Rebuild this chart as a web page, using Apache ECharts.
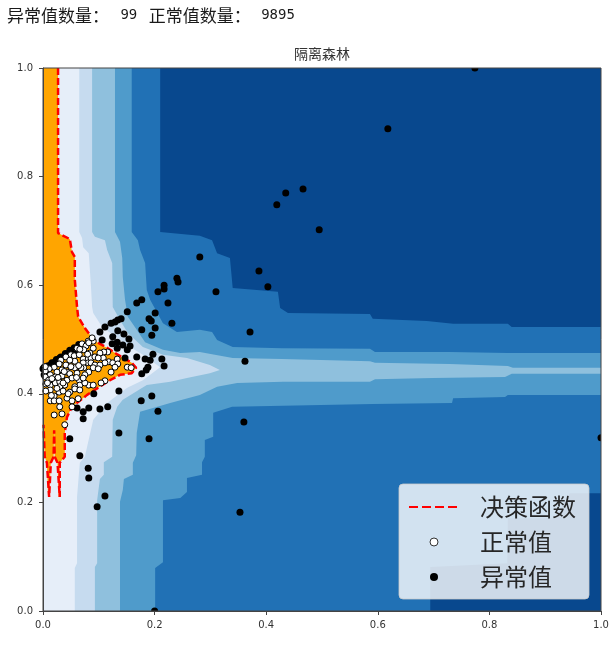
<!DOCTYPE html>
<html>
<head>
<meta charset="utf-8">
<style>html,body{margin:0;padding:0;background:#fff}#c{width:613px;height:650px}</style>
<script src="https://cdn.jsdelivr.net/npm/echarts@6/dist/echarts.min.js"></script>
</head>
<body>
<div id="c"></div>
<script>
var chartTitle = '隔离森林';
var anomalyCount = 99;
var normalCount = 9895;
var xTicks = [0, 0.2, 0.4, 0.6, 0.8, 1.0];

var levelColors = ['#08488e', '#2171b5', '#4f9bcb', '#8fc0dd', '#c6dbef', '#e6eef9', '#ffa500'];

var level1 = [[0,1],[.210,1],[.210,.698],[.281,.691],[.303,.683],[.312,.659],[.335,.650],[.340,.595],[.421,.588],[.425,.558],[.439,.549],[.586,.547],[.591,.538],[.688,.534],[.735,.529],[.833,.529],[.840,.523],[1,.523],[1,.217],[.944,.217],[.917,.171],[.833,.171],[.832,.088],[.694,.081],[.694,0],[0,0]];

var level2 = [[0,1],[.159,1],[.159,.698],[.170,.683],[.174,.665],[.183,.641],[.186,.591],[.192,.573],[.215,.530],[.240,.514],[.281,.518],[.303,.514],[.312,.499],[.340,.486],[.428,.484],[.586,.483],[.595,.477],[.729,.477],[.833,.475],[1,.475],[1,.398],[.833,.398],[.828,.394],[.735,.392],[.733,.383],[.591,.381],[.430,.378],[.339,.376],[.305,.365],[.305,.321],[.290,.315],[.290,.284],[.285,.274],[.285,.251],[.258,.245],[.258,.219],[.246,.208],[.215,.204],[.215,.090],[.201,.079],[.201,0],[0,0]];

var level3 = [[0,1],[.129,1],[.129,.698],[.138,.680],[.142,.650],[.143,.615],[.147,.573],[.152,.542],[.168,.518],[.183,.495],[.215,.481],[.246,.475],[.281,.477],[.303,.473],[.340,.466],[.428,.464],[.586,.460],[.595,.457],[.729,.455],[.833,.451],[.842,.448],[1,.448],[1,.437],[.840,.437],[.828,.431],[.699,.429],[.595,.427],[.586,.422],[.430,.422],[.348,.420],[.312,.413],[.281,.398],[.228,.383],[.174,.367],[.168,.328],[.167,.287],[.161,.273],[.161,.251],[.145,.243],[.143,.223],[.138,.201],[.138,0],[0,0]];

var level4 = [[0,1],[.088,1],[.088,.698],[.093,.689],[.111,.683],[.115,.665],[.124,.641],[.125,.560],[.138,.536],[.152,.512],[.179,.486],[.215,.472],[.258,.466],[.299,.453],[.317,.444],[.299,.438],[.258,.429],[.228,.422],[.186,.416],[.143,.389],[.133,.376],[.125,.352],[.124,.284],[.109,.274],[.109,.251],[.102,.243],[.097,.204],[.097,.088],[.093,.081],[.093,0],[0,0]];

var level5 = [[0,1],[.065,1],[.065,.698],[.070,.687],[.072,.670],[.082,.659],[.086,.597],[.088,.560],[.090,.549],[.106,.523],[.156,.486],[.179,.472],[.210,.449],[.179,.425],[.151,.411],[.115,.383],[.090,.352],[.075,.284],[.066,.273],[.061,.210],[.061,.088],[.057,.079],[.057,0],[0,0]];

var decisionLine = [[.027,1],[.027,.696],[.048,.685],[.052,.661],[.057,.652],[.057,.610],[.061,.560],[.063,.542],[.075,.521],[.088,.503],[.097,.495],[.116,.484],[.134,.472],[.159,.457],[.167,.448],[.159,.438],[.138,.435],[.120,.425],[.106,.416],[.079,.398],[.052,.376],[.043,.357],[.039,.328],[.039,.284],[.030,.273],[.030,.210],[.028,.210],[.026,.273],[.021,.284],[.020,.333],[.019,.284],[.014,.273],[.011,.210],[.009,.210],[.007,.273],[.003,.284],[.001,.343]];

var decisionFillClose = [[0,.343],[0,1]];

var anomalies = [[.240,.613],[.242,.606],[.217,.600],[.217,.593],[.206,.588],[.310,.588],[.177,.573],[.168,.567],[.224,.567],[.151,.551],[.201,.549],[.190,.538],[.194,.534],[.231,.530],[.140,.538],[.134,.536],[.129,.532],[.122,.530],[.111,.523],[.102,.514],[.201,.521],[.177,.518],[.195,.508],[.371,.514],[.134,.516],[.145,.510],[.154,.501],[.125,.505],[.133,.495],[.106,.499],[.124,.492],[.133,.484],[.143,.490],[.156,.488],[.151,.481],[.147,.466],[.197,.473],[.168,.468],[.183,.464],[.192,.462],[.213,.464],[.362,.460],[.217,.451],[.188,.449],[.185,.444],[.177,.437],[.136,.405],[.195,.396],[.176,.387],[.206,.368],[.136,.328],[.190,.317],[.091,.400],[.116,.376],[.102,.372],[.082,.374],[.061,.374],[.072,.367],[.072,.354],[.048,.317],[.066,.286],[.081,.263],[.082,.245],[.111,.212],[.097,.192],[.353,.182],[.360,.348],[.618,.888],[.466,.777],[.435,.770],[.419,.748],[.495,.702],[.281,.652],[.387,.626],[.403,.597],[.002,.449],[.005,.444],[.002,.435],[.013,.453],[.022,.459],[.030,.466],[.041,.470],[.052,.478],[.007,.431],[.070,.488],[.063,.477],[.000,.446],[.008,.451],[.016,.457],[.024,.463],[.032,.468],[.040,.474],[.048,.480],[.056,.485],[.064,.491],[.012,.448],[.028,.460]];

var anomaliesOnEdge = [[.2,0],[1,.319],[.774,1]];

var normals = [[.081,.497],[.070,.492],[.077,.488],[.061,.484],[.073,.481],[.050,.472],[.041,.468],[.056,.470],[.032,.462],[.065,.472],[.072,.464],[.081,.464],[.081,.457],[.072,.457],[.057,.460],[.048,.462],[.041,.453],[.029,.455],[.020,.449],[.011,.446],[.004,.442],[.057,.448],[.073,.448],[.034,.444],[.025,.440],[.043,.440],[.013,.435],[.004,.431],[.022,.431],[.034,.433],[.048,.437],[.061,.438],[.082,.440],[.043,.425],[.052,.429],[.065,.425],[.005,.418],[.013,.416],[.022,.420],[.030,.422],[.039,.416],[.066,.416],[.082,.416],[.057,.413],[.030,.413],[.013,.407],[.029,.403],[.048,.403],[.057,.409],[.066,.407],[.043,.392],[.020,.396],[.013,.387],[.020,.387],[.029,.387],[.052,.387],[.063,.391],[.030,.376],[.052,.376],[.020,.361],[.034,.363],[.039,.343],[.090,.497],[.082,.494],[.090,.484],[.116,.477],[.084,.475],[.109,.477],[.102,.475],[.086,.466],[.093,.468],[.108,.466],[.118,.459],[.125,.457],[.133,.464],[.134,.455],[.111,.457],[.099,.466],[.086,.457],[.093,.453],[.102,.453],[.090,.448],[.099,.446],[.129,.449],[.122,.440],[.151,.449],[.158,.448],[.111,.424],[.104,.420],[.090,.416],[.075,.420],[.088,.503],[.068,.448],[.036,.420],[.010,.425],[.025,.410],[.005,.405],[.015,.397],[.045,.400],[.060,.430],[.075,.435],[.008,.420],[.027,.430],[.038,.441],[.050,.450],[.064,.452],[.016,.428],[.036,.405],[.072,.429],[.080,.473],[.066,.482],[.004,.450]];

var decisionFill = decisionLine.concat(decisionFillClose);

function bandSeries(points, color, z) {
  return {
    type: 'custom',
    silent: true,
    z: z,
    clip: true,
    coordinateSystem: 'cartesian2d',
    data: points,
    encode: { x: 0, y: 1 },
    renderItem: function (params, api) {
      if (params.dataIndex !== 0) return null;
      return {
        type: 'polygon',
        shape: { points: points.map(function (p) { return api.coord(p); }) },
        style: { fill: color, stroke: null }
      };
    }
  };
}

var bgSeries = bandSeries([[0,0],[1,0],[1,1],[0,1]], levelColors[0], 1);
var bands = [level1, level2, level3, level4, level5, decisionFill];
var series = [bgSeries].concat(bands.map(function (b, i) {
  return bandSeries(b, levelColors[i + 1], 1);
}));

series.push({
  name: '决策函数', type: 'line', z: 3, data: decisionLine,
  symbol: 'none', silent: true, clip: true,
  lineStyle: { color: '#ff0000', width: 2.5, type: [7, 3] },
  itemStyle: { color: '#ff0000' }
});
series.push({
  name: '异常值', type: 'scatter', z: 4, data: anomalies,
  symbolSize: 7, silent: true, clip: true,
  itemStyle: { color: '#000000', opacity: 1 }
});
// points lying on the frame: drawn through a custom series so the frame cuts them in half
series.push({
  type: 'custom', z: 4, silent: true, clip: true,
  coordinateSystem: 'cartesian2d',
  data: anomaliesOnEdge,
  encode: { x: 0, y: 1 },
  renderItem: function (params, api) {
    var c = api.coord([api.value(0), api.value(1)]);
    return { type: 'circle', shape: { cx: c[0], cy: c[1], r: 3.5 }, style: { fill: '#000000' } };
  }
});
series.push({
  name: '正常值', type: 'scatter', z: 5, data: normals,
  symbolSize: 6, silent: true, clip: true,
  itemStyle: { color: '#ffffff', borderColor: '#000000', borderWidth: 1, opacity: 1 }
});

var chart = echarts.init(document.getElementById('c'), null, { renderer: 'canvas' });
var axisCommon = function (margin) {
  return {
    type: 'value', min: 0, max: 1, interval: 0.2,
    axisLine: { show: true, onZero: false, lineStyle: { color: '#444444', width: 1 } },
    axisTick: { show: true, length: 4, lineStyle: { color: '#444444' } },
    splitLine: { show: false },
    axisLabel: { fontFamily: '"DejaVu Sans"', fontSize: 10, color: '#333333', margin: margin, showMinLabel: true, showMaxLabel: true, formatter: function (v) { return v.toFixed(1); } },
    z: 10
  };
};
chart.setOption({
  animation: false,
  backgroundColor: '#ffffff',
  title: [
    {
      text: '{c|异常值数量：}{n|' + ' ' + anomalyCount + ' ' + '}{c|正常值数量：}{m|' + ' ' + normalCount + '}',
      left: 7, top: 7, padding: 0,
      textStyle: {
        fontWeight: 'normal',
        rich: {
          c: { fontFamily: '"Noto Sans CJK SC"', fontSize: 17, fontWeight: 'normal', color: '#1a1a1a' },
          n: { fontFamily: '"DejaVu Sans Mono"', fontSize: 14, fontWeight: 'normal', color: '#1a1a1a', padding: [0, 3, 0, 3] },
          m: { fontFamily: '"DejaVu Sans Mono"', fontSize: 14, fontWeight: 'normal', color: '#1a1a1a', padding: [0, 0, 0, 2] }
        }
      }
    },
    {
      text: chartTitle, left: 322, top: 47, textAlign: 'center', padding: 0,
      textStyle: { fontFamily: '"Noto Sans CJK SC"', fontSize: 14, fontWeight: 'normal', color: '#333333' }
    }
  ],
  grid: { left: 43, top: 68, width: 558, height: 543, containLabel: false, show: true, backgroundColor: 'transparent', borderColor: '#444444', borderWidth: 1, z: 10 },
  xAxis: axisCommon(9),
  yAxis: axisCommon(10),
  legend: {
    data: [
      { name: '决策函数', itemStyle: { color: 'rgba(0,0,0,0)', borderColor: 'rgba(0,0,0,0)' }, lineStyle: { color: '#ff0000', width: 2, type: [9, 4] } },
      { name: '正常值', itemStyle: { color: '#ffffff', borderColor: '#333333', borderWidth: 1 } },
      { name: '异常值' }
    ],
    orient: 'vertical', left: 399, top: 484,
    padding: [11, 13, 10, 9],
    itemWidth: 50, itemHeight: 8, itemGap: 11,
    backgroundColor: 'rgba(255,255,255,0.8)',
    borderColor: 'rgba(204,204,204,0.8)', borderWidth: 1, borderRadius: 4,
    textStyle: { fontFamily: '"Noto Sans CJK SC"', fontSize: 24, color: '#262626', padding: [0, 0, 0, 16] },
    z: 20
  },
  series: series
});
</script>
</body>
</html>
